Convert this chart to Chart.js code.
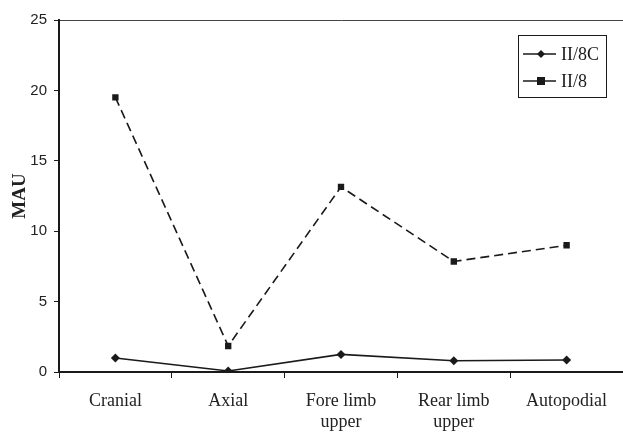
<!DOCTYPE html>
<html>
<head>
<meta charset="utf-8">
<script src="https://cdn.jsdelivr.net/npm/chart.js@4"></script>
<style>
  html, body { margin: 0; padding: 0; background: #fff; overflow: hidden; }
  #wrap { width: 623px; height: 432px; }
</style>
</head>
<body>
<div id="wrap"><canvas id="mauChart" width="623" height="432"></canvas></div>
<script>
// MAU by skeletal part, two assemblages

const categories = ['Cranial', 'Axial', ['Fore limb', 'upper'], ['Rear limb', 'upper'], 'Autopodial'];
const legendLabels = ['II/8C', 'II/8'];
const valuesII8C = [1.0, 0.07, 1.25, 0.8, 0.85];
const valuesII8 = [19.5, 1.85, 13.15, 7.85, 9.0];
const yTicks = [0, 5, 10, 15, 20, 25];

const ink = '#1a1a1a';
const serif = "'Liberation Serif', 'Times New Roman', serif";
const sans = "'Liberation Sans', Arial, sans-serif";

// legend with a framed box inside the plot, upper right
const boxLegend = {
    id: 'boxLegend',
    afterDraw(chart) {
        const c = chart.ctx;
        const area = chart.chartArea;
        const x0 = 518, y0 = area.top + 15;
        const w = 88, h = 62;
        c.save();
        c.strokeStyle = ink;
        c.lineWidth = 1;
        c.strokeRect(x0 + 0.5, y0 + 0.5, w, h);
        chart.data.datasets.forEach((ds, i) => {
            const yy = y0 + 19 + i * 27;
            c.strokeStyle = ds.borderColor;
            c.lineWidth = 1.5;
            c.setLineDash([]);
            c.beginPath();
            c.moveTo(x0 + 5, yy);
            c.lineTo(x0 + 38, yy);
            c.stroke();
            c.fillStyle = ds.pointBackgroundColor;
            c.beginPath();
            if (ds.pointStyle === 'rect') {
                c.rect(x0 + 19, yy - 4, 8, 8);
            } else {
                c.moveTo(x0 + 23, yy - 4);
                c.lineTo(x0 + 27, yy);
                c.lineTo(x0 + 23, yy + 4);
                c.lineTo(x0 + 19, yy);
                c.closePath();
            }
            c.fill();
            c.fillStyle = ink;
            c.font = '18px ' + serif;
            c.textBaseline = 'middle';
            c.textAlign = 'left';
            c.fillText(ds.label, x0 + 43, yy + 1);
        });
        c.restore();
    }
};

new Chart(document.getElementById('mauChart'), {
    type: 'line',
    data: {
        labels: categories,
        datasets: [
            {
                label: legendLabels[0],
                data: valuesII8C,
                borderColor: ink,
                borderWidth: 1.6,
                pointStyle: 'rectRot',
                pointRadius: 4.5,
                pointBackgroundColor: ink,
                pointBorderColor: ink,
                pointBorderWidth: 0,
                tension: 0
            },
            {
                label: legendLabels[1],
                data: valuesII8,
                borderColor: ink,
                borderWidth: 1.6,
                borderDash: [9, 5],
                pointStyle: 'rect',
                pointRadius: 4.5,
                pointBackgroundColor: ink,
                pointBorderColor: ink,
                pointBorderWidth: 0,
                tension: 0
            }
        ]
    },
    options: {
        responsive: false,
        animation: false,
        layout: { autoPadding: false, padding: { top: 20, right: 0, left: 0, bottom: 0 } },
        plugins: {
            legend: { display: false },
            tooltip: { enabled: false }
        },
        scales: {
            x: {
                offset: true,
                grid: {
                    offset: true,
                    drawOnChartArea: false,
                    tickLength: 6,
                    tickColor: ink
                },
                border: { color: ink, width: 2 },
                ticks: {
                    color: '#222',
                    font: { family: serif, size: 18, lineHeight: 1.17 },
                    padding: 13,
                    maxRotation: 0,
                    autoSkip: false
                },
                afterFit(scale) { scale.height = 60; }
            },
            y: {
                min: 0,
                max: 25,
                afterBuildTicks(scale) {
                    scale.ticks = yTicks.map(v => ({ value: v }));
                },
                grid: {
                    color: ctx => (ctx.tick && ctx.tick.value === 25) ? '#444' : 'transparent',
                    tickColor: ink,
                    tickLength: 5,
                    lineWidth: 1
                },
                border: { color: ink, width: 2 },
                ticks: {
                    color: '#222',
                    font: { family: sans, size: 15 },
                    padding: 7
                },
                title: {
                    display: true,
                    text: 'MAU',
                    color: '#222',
                    font: { family: serif, size: 19, weight: 'bold' },
                    padding: { top: 9, bottom: 0 }
                },
                afterFit(scale) { scale.width = 59; }
            }
        }
    },
    plugins: [boxLegend]
});
</script>
</body>
</html>
